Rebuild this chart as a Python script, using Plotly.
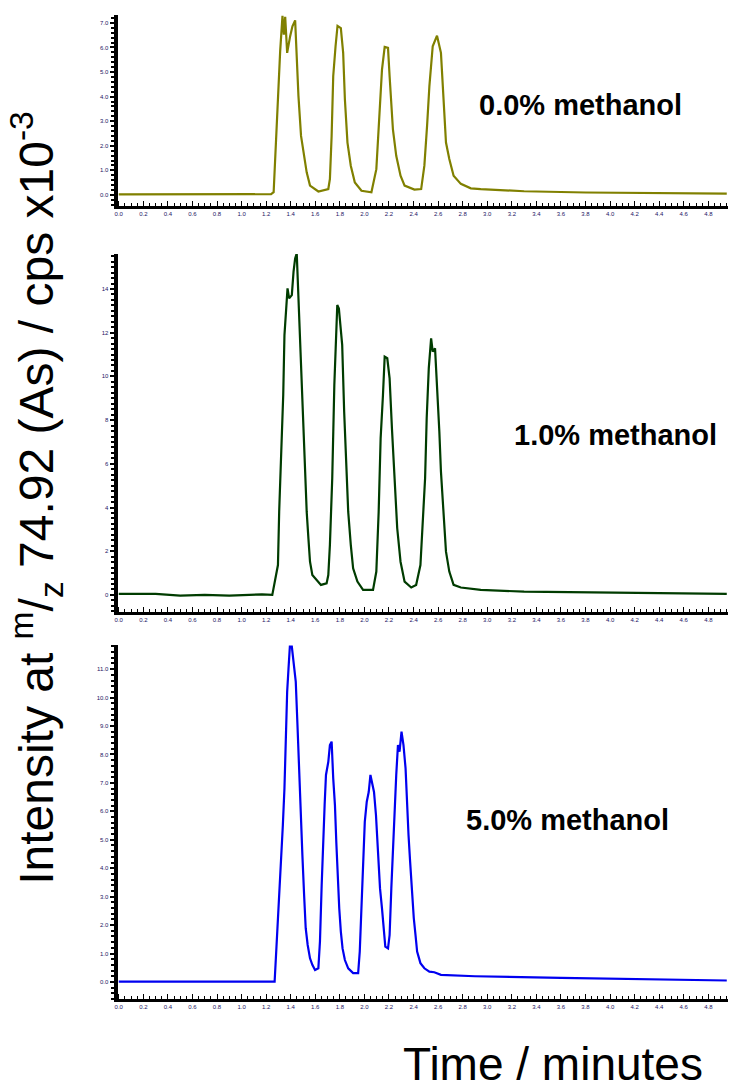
import plotly.graph_objects as go

# ---- chromatogram data (time in minutes, intensity in cps x10^-3) ----
t_meoh0 = [0.0, 0.5, 1.0, 1.24, 1.261, 1.274, 1.287, 1.301, 1.314, 1.333, 1.344, 1.355, 1.371,
           1.395, 1.414, 1.436, 1.449, 1.463, 1.484, 1.503, 1.530, 1.557, 1.625, 1.706, 1.719,
           1.733, 1.746, 1.765, 1.781, 1.808, 1.827, 1.841, 1.862, 1.889, 1.922, 1.976, 2.057,
           2.097, 2.124, 2.143, 2.165, 2.192, 2.205, 2.232, 2.259, 2.294, 2.327, 2.407, 2.462,
           2.488, 2.510, 2.529, 2.556, 2.591, 2.623, 2.645, 2.664, 2.691, 2.726, 2.785, 2.866,
           2.947, 3.3, 3.8, 4.2, 4.6, 4.95]
i_meoh0 = [0.02, 0.02, 0.02, 0.03, 0.11, 1.66, 2.94, 4.49, 5.84, 7.29, 6.52, 7.25, 5.78,
           6.45, 6.86, 7.10, 5.51, 4.02, 2.40, 1.73, 0.92, 0.38, 0.14, 0.24, 0.65,
           2.40, 4.83, 6.05, 6.88, 6.79, 5.78, 3.89, 2.13, 1.19, 0.51, 0.17, 0.11,
           1.05, 3.48, 5.10, 6.02, 5.98, 4.83, 2.67, 1.59, 0.78, 0.38, 0.22, 0.24,
           1.19, 2.81, 4.43, 6.05, 6.48, 5.78, 3.75, 2.13, 1.46, 0.78, 0.45, 0.27,
           0.24, 0.15, 0.10, 0.08, 0.06, 0.05]

t_meoh1 = [0.0, 0.3, 0.5, 0.7, 0.9, 1.166, 1.25, 1.274, 1.296, 1.306, 1.323, 1.339, 1.349,
           1.360, 1.374, 1.387, 1.409, 1.423, 1.436, 1.449, 1.463, 1.477, 1.490, 1.503,
           1.517, 1.530, 1.544, 1.557, 1.576, 1.611, 1.646, 1.692, 1.706, 1.719, 1.738,
           1.755, 1.765, 1.779, 1.792, 1.803, 1.819, 1.835, 1.849, 1.868, 1.889, 1.908,
           1.943, 1.989, 2.070, 2.097, 2.116, 2.132, 2.151, 2.165, 2.186, 2.205, 2.224,
           2.246, 2.267, 2.294, 2.327, 2.381, 2.421, 2.456, 2.475, 2.494, 2.507, 2.524,
           2.543, 2.556, 2.575, 2.591, 2.610, 2.623, 2.645, 2.664, 2.691, 2.726, 2.785,
           2.893, 2.947, 3.3, 3.8, 4.3, 4.95]
i_meoh1 = [0.05, 0.05, -0.03, 0.0, -0.03, 0.03, 0.0, 0.76, 1.37, 3.81, 6.56, 9.15, 11.89,
           12.96, 14.03, 13.57, 13.72, 14.79, 15.40, 15.63, 13.65, 11.74, 9.61, 7.47,
           5.49, 3.81, 2.59, 1.52, 0.91, 0.69, 0.46, 0.53, 0.91, 2.29, 5.34,
           9.61, 11.59, 13.27, 13.11, 12.50, 11.44, 8.39, 6.10, 3.81, 2.29, 1.22,
           0.61, 0.23, 0.23, 1.07, 3.81, 7.17, 9.15, 10.90, 10.83, 9.91, 7.62,
           5.34, 3.05, 1.52, 0.61, 0.34, 0.46, 1.37, 3.35, 5.34, 8.10, 10.38,
           11.74, 11.13, 11.28, 9.61, 7.47, 5.64, 3.51, 1.98, 1.07, 0.46, 0.34,
           0.26, 0.23, 0.15, 0.12, 0.08, 0.05]

t_meoh5 = [0.0, 0.6, 1.2, 1.269, 1.279, 1.293, 1.306, 1.323, 1.336, 1.349, 1.360, 1.371,
           1.382, 1.393, 1.409, 1.423, 1.441, 1.455, 1.468, 1.482, 1.495, 1.509, 1.522,
           1.538, 1.557, 1.576, 1.598, 1.625, 1.638, 1.652, 1.665, 1.676, 1.687, 1.706,
           1.719, 1.733, 1.746, 1.760, 1.771, 1.781, 1.795, 1.808, 1.822, 1.841, 1.868,
           1.908, 1.949, 1.962, 1.976, 1.989, 2.003, 2.019, 2.035, 2.049, 2.062, 2.078,
           2.094, 2.111, 2.127, 2.143, 2.159, 2.170, 2.192, 2.205, 2.219, 2.235, 2.246,
           2.259, 2.273, 2.286, 2.302, 2.318, 2.335, 2.346, 2.359, 2.372, 2.386, 2.402,
           2.416, 2.429, 2.456, 2.488, 2.529, 2.569, 2.623, 2.9, 3.6, 4.2, 4.95]
i_meoh5 = [0.01, 0.01, 0.01, 0.01, 0.83, 1.89, 3.17, 4.46, 5.52, 6.81, 8.57, 10.20,
           11.02, 11.79, 11.79, 11.26, 10.56, 9.03, 7.28, 5.75, 4.46, 3.06, 1.89,
           1.30, 0.83, 0.60, 0.42, 0.48, 1.42, 3.41, 5.17, 6.22, 7.28, 7.74,
           8.33, 8.45, 7.16, 6.22, 4.92, 3.76, 2.59, 1.77, 1.18, 0.77, 0.48,
           0.31, 0.31, 1.07, 2.47, 3.99, 5.63, 6.34, 6.68, 7.28, 7.04, 6.68,
           5.87, 4.46, 3.29, 2.59, 1.65, 1.24, 1.18, 1.65, 3.29, 4.92, 6.34,
           7.28, 8.33, 8.10, 8.80, 8.33, 7.51, 6.10, 5.17, 4.23, 3.17, 2.24,
           1.65, 1.07, 0.66, 0.48, 0.36, 0.34, 0.25, 0.20, 0.14, 0.09, 0.05]

series_labels = ["0.0% methanol", "1.0% methanol", "5.0% methanol"]
series_colors = ["#808000", "#003c00", "#0000f0"]

W, H = 730, 1092
TICK_BLUE = "#1c1464"

fig = go.Figure()
panels = [
    (t_meoh0, i_meoh0, "x", "y"),
    (t_meoh1, i_meoh1, "x2", "y2"),
    (t_meoh5, i_meoh5, "x3", "y3"),
]
for (t, v, xa, ya), name, col in zip(panels, series_labels, series_colors):
    fig.add_trace(go.Scatter(x=t, y=v, mode="lines", name=name, xaxis=xa, yaxis=ya,
                             line=dict(color=col, width=2.2), showlegend=False))

def px_dom_y(top, bottom):
    return [1 - bottom / H, 1 - top / H]

x_dom = [115 / W, 728 / W]
# vertical extents (pixels) of the three plot areas
y_doms = [px_dom_y(15, 206), px_dom_y(254, 612), px_dom_y(645, 999)]
y_ranges = [[-0.45, 7.32], [-0.78, 15.6], [-0.6, 11.85]]
y_dticks = [1, 2, 1]
y_minor = [0.2, 0.25, 0.2]
y_fmt = [".1f", "d", ".1f"]

tickfont = dict(family="Liberation Sans", size=6, color=TICK_BLUE)

for k in range(3):
    sfx = "" if k == 0 else str(k + 1)
    fig.update_layout(**{
        "xaxis" + sfx: dict(
            domain=x_dom, range=[-0.01, 4.96], anchor="y" + sfx,
            showline=True, linecolor="black", linewidth=3, mirror=False,
            showgrid=False, zeroline=False,
            ticks="inside", ticklen=5, tickwidth=1, tickcolor="black",
            dtick=0.2, tick0=0, tickformat=".1f", tickfont=tickfont,
            minor=dict(ticks="inside", ticklen=3, tickwidth=1, tickcolor="black", dtick=0.05),
        ),
        "yaxis" + sfx: dict(
            domain=y_doms[k], range=y_ranges[k], anchor="x" + sfx,
            showline=True, linecolor="black", linewidth=4,
            showgrid=False, zeroline=False,
            ticks="outside", ticklen=4, tickwidth=2, tickcolor="black",
            dtick=y_dticks[k], tick0=0, tickformat=y_fmt[k], tickfont=tickfont,
            minor=dict(ticks="outside", ticklen=3, tickwidth=1.5, tickcolor="black",
                       dtick=y_minor[k]),
        ),
    })

annotations = [
    dict(text="Intensity at <sup>m</sup>/<sub>z</sub> 74.92 (As) / cps x10<sup>-3</sup>",
         x=34 / W, y=1 - 498 / H, textangle=-90,
         font=dict(family="Liberation Sans", size=48, color="black")),
    dict(text="Time / minutes", x=552 / W, y=1 - 1064 / H,
         font=dict(family="Liberation Sans", size=46, color="black")),
]
label_pos = [(580, 105), (615, 435), (567, 820)]
for lab, (lx, ly) in zip(series_labels, label_pos):
    annotations.append(dict(text="<b>" + lab + "</b>", x=lx / W, y=1 - ly / H,
                            font=dict(family="Liberation Sans", size=29, color="black")))
for a in annotations:
    a.update(xref="paper", yref="paper", showarrow=False, xanchor="center", yanchor="middle")

fig.update_layout(width=W, height=H, margin=dict(l=0, r=0, t=0, b=0),
                  paper_bgcolor="white", plot_bgcolor="white",
                  annotations=annotations)

fig.write_html("out.html")
